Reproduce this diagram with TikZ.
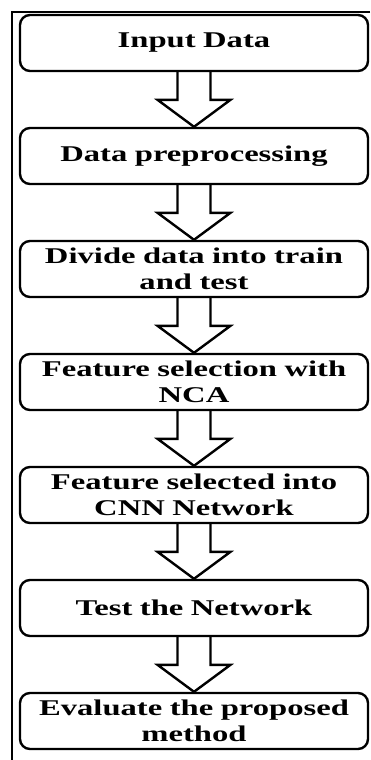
\documentclass[tikz,border=0pt]{standalone}
\usepackage{fontspec}
\setmainfont{Liberation Serif}[FakeStretch=1.45]
\usetikzlibrary{calc}
\newcommand{\flowarrow}[2]{%
  \draw[blockarrow] ($(#1.south)+(-16.5pt,0)$) -- ($(#2.north)+(-16.5pt,27pt)$)
    -- ($(#2.north)+(-36.5pt,27pt)$) -- (#2.north) -- ($(#2.north)+(36.5pt,27pt)$)
    -- ($(#2.north)+(16.5pt,27pt)$) -- ($(#1.south)+(16.5pt,0)$);}

\begin{document}
\begin{tikzpicture}[x=1pt,y=1pt,
    stepbox/.style={draw,line width=2.4pt,rounded corners=10pt,minimum width=348pt,
      minimum height=56pt,text width=330pt,inner xsep=9pt,inner ysep=0pt,align=center,
      font=\bfseries\fontsize{22.5}{26}\selectfont},
    blockarrow/.style={line width=2.4pt,line join=miter}]
    \useasboundingbox[fill=white] (0,0) rectangle (370,-760);
    \draw[line width=2pt] (370,-12) -- (12,-12) -- (12,-760);
    \node[stepbox] (In) at (194,-43) {Input Data};
    \node[stepbox] (Pre) at (194,-156) {Data preprocessing};
    \node[stepbox] (Div) at (194,-269) {Divide data into train\\and test};
    \node[stepbox] (Sel) at (194,-382) {Feature selection with\\NCA};
    \node[stepbox] (Cnn) at (194,-495) {Feature selected into\\CNN Network};
    \node[stepbox] (Tst) at (194,-608) {Test the Network};
    \node[stepbox] (Eva) at (194,-721) {Evaluate the proposed\\method};
    \flowarrow{In}{Pre}
    \flowarrow{Pre}{Div}
    \flowarrow{Div}{Sel}
    \flowarrow{Sel}{Cnn}
    \flowarrow{Cnn}{Tst}
    \flowarrow{Tst}{Eva}
  \end{tikzpicture}
\end{document}
